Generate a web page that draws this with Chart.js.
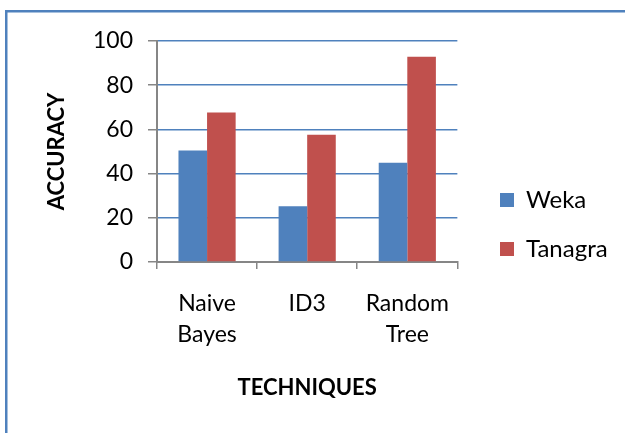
<!DOCTYPE html>
<html>
<head>
<meta charset="utf-8">
<script src="https://cdn.jsdelivr.net/npm/chart.js@4/dist/chart.umd.min.js"></script>
<style>
  html, body { margin: 0; padding: 0; background: #ffffff; }
  canvas { display: block; }
</style>
</head>
<body>
<canvas id="c" width="625" height="433"></canvas>
<script>
const categories = [['Naive', 'Bayes'], 'ID3', ['Random', 'Tree']];
const wekaValues = [50.5, 25.2, 44.9];
const tanagraValues = [67.6, 57.6, 92.9];
const yTickValues = [0, 20, 40, 60, 80, 100];
const seriesNames = ['Weka', 'Tanagra'];

const frame = {
  id: 'frame',
  beforeDraw(chart) {
    const ctx = chart.ctx;
    ctx.save();
    ctx.fillStyle = '#ffffff';
    ctx.fillRect(0, 0, chart.width, chart.height);
    ctx.strokeStyle = '#4F81BD';
    ctx.lineWidth = 2.5;
    ctx.strokeRect(6.25, 11.25, 1000, 1000);
    ctx.restore();
  },
  afterLayout(chart) {
    const lg = chart.legend;
    if (lg) {
      const dx = 475 - lg.left;
      lg.left += dx;
      lg.right += dx;
    }
  }
};

new Chart(document.getElementById('c'), {
  type: 'bar',
  data: {
    labels: categories,
    datasets: [
      { label: seriesNames[0], data: wekaValues, backgroundColor: '#4F81BD', borderWidth: 0,
        categoryPercentage: 0.571, barPercentage: 1.0 },
      { label: seriesNames[1], data: tanagraValues, backgroundColor: '#C0504D', borderWidth: 0,
        categoryPercentage: 0.571, barPercentage: 1.0 }
    ]
  },
  options: {
    responsive: false,
    animation: false,
    layout: { padding: { left: 0, top: 41, right: 25, bottom: 25 } },
    plugins: {
      legend: {
        position: 'right',
        align: 'center',
        labels: {
          boxWidth: 14, boxHeight: 14, padding: 25, color: '#000000',
          font: { family: 'Lato', size: 24 }
        }
      },
      tooltip: { enabled: false }
    },
    scales: {
      x: {
        ticks: {
          padding: 19, color: '#000000', maxRotation: 0, autoSkip: false,
          font: { family: 'Lato', size: 23, lineHeight: 1.36 }
        },
        grid: { offset: true, drawOnChartArea: false, tickLength: 7, color: '#868686', lineWidth: 1.5 },
        border: { color: '#868686', width: 2 },
        title: {
          display: true, text: 'TECHNIQUES', color: '#000000',
          font: { family: 'Lato', size: 22, weight: 'bold' },
          padding: { top: 0, bottom: 7 }
        },
        afterFit(s) { s.height = 146; }
      },
      y: {
        min: 0, max: 100,
        afterBuildTicks(s) { s.ticks = yTickValues.map(v => ({ value: v })); },
        ticks: {
          padding: 15, color: '#000000',
          font: { family: 'Lato', size: 23 }
        },
        grid: {
          color: (c) => (c.tick && c.tick.value === 0) ? 'rgba(0,0,0,0)' : '#4F81BD',
          tickColor: '#868686',
          lineWidth: 1.5,
          tickLength: 9
        },
        border: { color: '#868686', width: 2 },
        title: {
          display: true, text: 'ACCURACY', color: '#000000',
          font: { family: 'Lato', size: 22, weight: 'bold' },
          padding: { top: 44, bottom: 0 }
        },
        afterFit(s) { s.width = 157; }
      }
    }
  },
  plugins: [frame]
});
</script>
</body>
</html>
